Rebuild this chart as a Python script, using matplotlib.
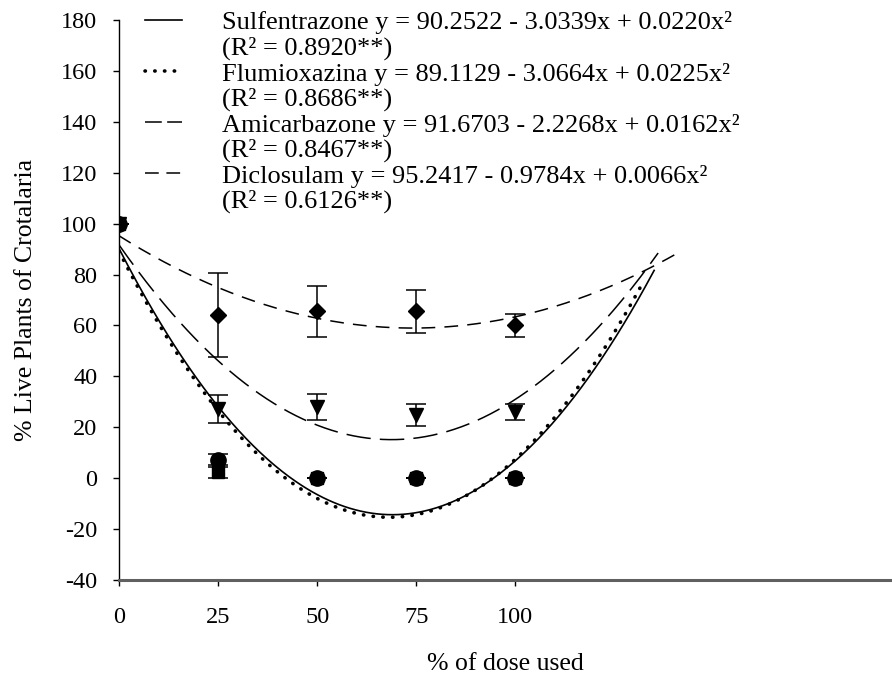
import numpy as np
import matplotlib
matplotlib.use("Agg")
import matplotlib.pyplot as plt
from matplotlib.lines import Line2D

plt.rcParams["font.family"] = ["Liberation Serif", "DejaVu Serif"]
plt.rcParams["axes.unicode_minus"] = False

# doses (% of dose used)
doses = [0, 25, 50, 75, 100]

# observed means and error bars
sulf_mean = [100, 7, 0, 0, 0]
sulf_err = [0, 2.5, 0, 0, 0]
flum_mean = [100, 2.5, 0, 0, 0]
flum_err = [0, 2.5, 0, 0, 0]
amic_mean = [100, 27, 28, 25, 26]
amic_err = [0, 5.5, 5, 4.3, 3]
dicl_mean = [100, 64, 65.5, 65.5, 60]
dicl_err = [0, 16.5, 10, 8.5, 4.5]

# regression coefficients (a, b, c) for y = a + b x + c x^2
sulf_coef = (90.2522, -3.0339, 0.0220)
flum_coef = (89.1129, -3.0664, 0.0225)
amic_coef = (91.6703, -2.2268, 0.0162)
dicl_coef = (95.2417, -0.9784, 0.0066)
curve_end = [135, 132, 136, 141]

labels = [
    "Sulfentrazone y = 90.2522 - 3.0339x + 0.0220x²", "(R² = 0.8920**)",
    "Flumioxazina y = 89.1129 - 3.0664x + 0.0225x²", "(R² = 0.8686**)",
    "Amicarbazone y = 91.6703 - 2.2268x + 0.0162x²", "(R² = 0.8467**)",
    "Diclosulam y = 95.2417 - 0.9784x + 0.0066x²", "(R² = 0.6126**)",
]

fig = plt.figure(figsize=(8.92, 6.79), dpi=100)
ax = fig.add_axes([0.1334, 0.1458, 0.8666, 0.8247])

styles = [
    dict(ls="-", lw=1.2),
    dict(ls=(0, (0.1, 2.6)), lw=2.6, dash_capstyle="round"),
    dict(ls=(0, (16, 6)), lw=1.1),
    dict(ls=(0, (9, 6)), lw=1.1),
]
# legend samples are shorter, so their dashes are shorter too
leg_styles = [
    dict(ls="-", lw=1.2),
    dict(ls=(0, (0.1, 2.6)), lw=2.6, dash_capstyle="round"),
    dict(ls=(0, (11, 3.5)), lw=1.1),
    dict(ls=(0, (9, 5)), lw=1.1),
]
coefs = [sulf_coef, flum_coef, amic_coef, dicl_coef]
for coef, end, st in zip(coefs, curve_end, styles):
    x = np.linspace(0, end, 300)
    a, b, c = coef
    ax.plot(x, a + b * x + c * x ** 2, color="black", **st)

ekw = dict(color="black", ecolor="black", elinewidth=1.1, capsize=7, capthick=1.1, ls="none")
ax.errorbar(doses, dicl_mean, yerr=dicl_err, marker="D", ms=8.5, **ekw)
ax.errorbar(doses, amic_mean, yerr=amic_err, marker="v", ms=9.5, **ekw)
ax.errorbar(doses, flum_mean, yerr=flum_err, marker="s", ms=8.5, **ekw)
ax.errorbar(doses, sulf_mean, yerr=sulf_err, marker="o", ms=11, **ekw)

ax.set_xlim(0, 195)
ax.set_ylim(-40, 180)
ax.set_xticks(doses)
ax.set_yticks(range(-40, 181, 20))
ax.spines["top"].set_visible(False)
ax.spines["right"].set_visible(False)
ax.spines["left"].set_linewidth(1.0)
ax.spines["bottom"].set_linewidth(2.2)
ax.spines["bottom"].set_color("#606060")
ax.tick_params(axis="both", direction="out", length=4.5, width=1, labelsize=17.5)
ax.tick_params(axis="x", pad=15)
ax.tick_params(axis="y", pad=11)

ax.set_xlabel("% of dose used", fontsize=18.5, labelpad=18)
ax.set_ylabel("% Live Plants of Crotalaria", fontsize=18.5, labelpad=17)

blank = Line2D([], [], ls="none")
leg_handles = []
for st in leg_styles:
    leg_handles += [Line2D([], [], color="black", **st), blank]
ax.legend(leg_handles, labels, loc="upper left", bbox_to_anchor=(0.02, 1.035),
          frameon=False, fontsize=19, handlelength=1.4, handletextpad=1.5,
          labelspacing=0.07, borderaxespad=0)

fig.savefig("out.png", dpi=100)
